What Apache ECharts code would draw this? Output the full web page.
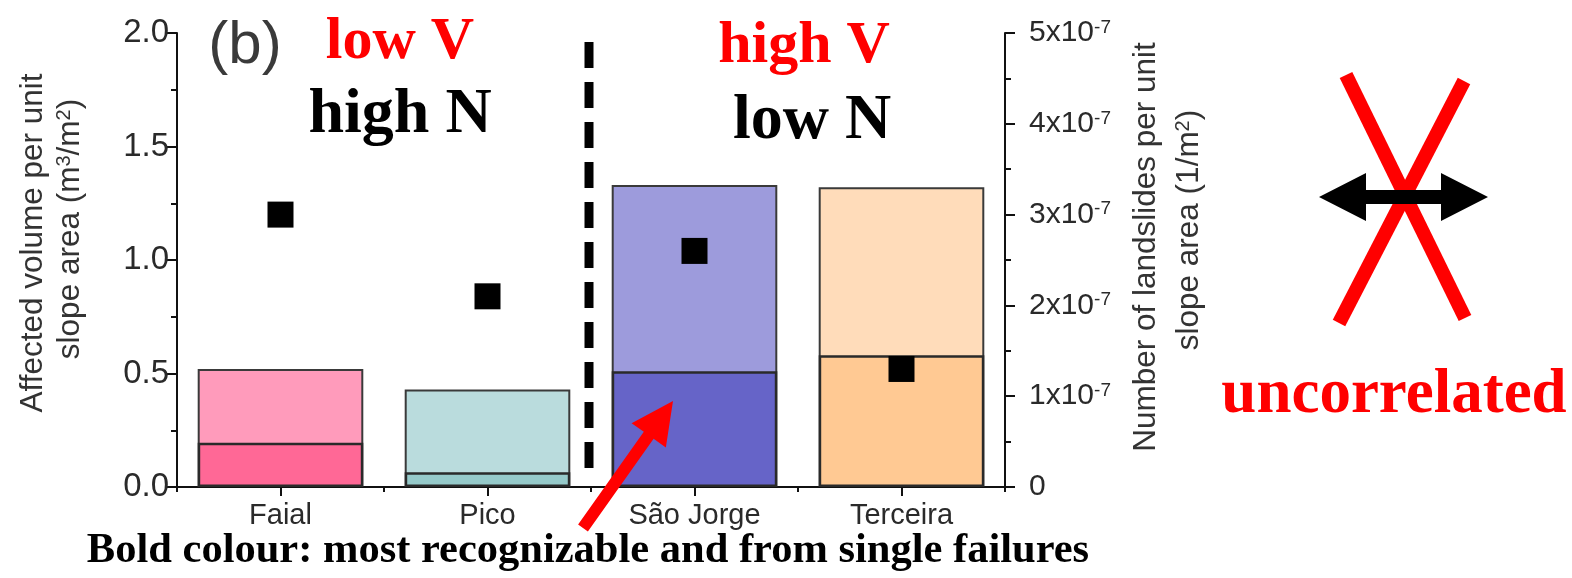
<!DOCTYPE html>
<html><head><meta charset="utf-8">
<script src="https://cdn.jsdelivr.net/npm/echarts@6/dist/echarts.min.js"></script>
<style>html,body{margin:0;padding:0;background:#fff}#c{width:1572px;height:578px}</style>
</head><body><div id="c"></div>
<script>
// ---- data ----
const islands = ['Faial', 'Pico', 'São Jorge', 'Terceira'];
const totalVolume = [0.52, 0.43, 1.33, 1.32];          // m3/m2, light bars
const singleFailureVolume = [0.195, 0.065, 0.51, 0.58]; // m3/m2, bold bars
const landslidesE7 = [3.0, 2.1, 2.6, 1.3];             // x10^-7 per m2, squares
const leftTicks = [0, 0.5, 1.0, 1.5, 2.0];
const rightTicks = [0, 1, 2, 3, 4, 5];
const lightColors = ['#FF9BBB', '#BADCDD', '#9D9BDC', '#FFDCBA'];
const boldColors = ['#FF6896', '#96CACA', '#6664C8', '#FFC993'];

const SANS = '"Liberation Sans", Arial, sans-serif';
const SERIF = '"Liberation Serif", "Times New Roman", serif';

const chart = echarts.init(document.getElementById('c'));
const axisCommon = {
  axisLine: { show: true, lineStyle: { color: '#111', width: 2 } },
  axisTick: { show: true, length: 10, lineStyle: { color: '#111', width: 2 } },
  minorTick: { show: true, splitNumber: 2, length: 6, lineStyle: { color: '#111', width: 2 } },
  splitLine: { show: false }
};
chart.setOption({
  animation: false,
  backgroundColor: '#fff',
  grid: { left: 177, right: 567, top: 33, bottom: 91, containLabel: false },
  xAxis: [{
    type: 'category', data: islands,
    axisLine: { show: true, lineStyle: { color: '#111', width: 2 } },
    axisTick: { show: true, alignWithLabel: true, length: 9, lineStyle: { color: '#111', width: 2 } },
    axisLabel: { fontFamily: SANS, fontSize: 29, color: '#2a2a2a', margin: 14 }
  }, {
    type: 'category', data: islands, position: 'bottom',
    axisLine: { show: false },
    axisTick: { show: true, length: 5, lineStyle: { color: '#111', width: 2 } },
    axisLabel: { show: false }
  }],
  yAxis: [Object.assign({
    type: 'value', min: leftTicks[0], max: leftTicks[leftTicks.length - 1], interval: 0.5,
    position: 'left',
    axisLabel: { fontFamily: SANS, fontSize: 33, color: '#2a2a2a', margin: 8,
      formatter: v => v.toFixed(1) }
  }, axisCommon), Object.assign({
    type: 'value', min: rightTicks[0], max: rightTicks[rightTicks.length - 1], interval: 1,
    position: 'right',
    axisLabel: { color: '#2a2a2a', margin: 24,
      formatter: v => v === 0 ? '{a|0}' : '{a|' + v + 'x10}{s|-7}',
      rich: {
        a: { fontFamily: SANS, fontSize: 30, color: '#2a2a2a' },
        s: { fontFamily: SANS, fontSize: 19, color: '#2a2a2a', verticalAlign: 'top' }
      } }
  }, axisCommon)],
  series: [{
    type: 'bar', name: 'total', xAxisIndex: 0, yAxisIndex: 0,
    barWidth: '80%', barGap: '-100%',
    data: totalVolume.map((v, i) => ({ value: v, itemStyle: { color: lightColors[i] } })),
    itemStyle: { borderColor: '#3a3a3a', borderWidth: 2 }, z: 2
  }, {
    type: 'bar', name: 'single', xAxisIndex: 0, yAxisIndex: 0,
    barWidth: '80%', barGap: '-100%',
    data: singleFailureVolume.map((v, i) => ({ value: v, itemStyle: { color: boldColors[i] } })),
    itemStyle: { borderColor: '#2a2a2a', borderWidth: 2.5 }, z: 3
  }, {
    type: 'scatter', name: 'landslides', xAxisIndex: 0, yAxisIndex: 1,
    symbol: 'rect', symbolSize: 26,
    data: landslidesE7,
    itemStyle: { color: '#000', opacity: 1 }, z: 5
  }]
});

// ---- annotations ----
function arrowPoints(x1, y1, x2, y2, headLen, headHalf, shaftHalf) {
  const dx = x2 - x1, dy = y2 - y1, L = Math.hypot(dx, dy);
  const ux = dx / L, uy = dy / L, nx = -uy, ny = ux;
  const bx = x2 - ux * headLen, by = y2 - uy * headLen;
  return [
    [x1 + nx * shaftHalf, y1 + ny * shaftHalf],
    [bx + nx * shaftHalf, by + ny * shaftHalf],
    [bx + nx * headHalf, by + ny * headHalf],
    [x2, y2],
    [bx - nx * headHalf, by - ny * headHalf],
    [bx - nx * shaftHalf, by - ny * shaftHalf],
    [x1 - nx * shaftHalf, y1 - ny * shaftHalf]
  ];
}
function txt(text, x, y, font, fill) {
  return { type: 'text', x: x, y: y, z: 20,
    style: { text: text, font: font, fill: fill, textAlign: 'center',
      textVerticalAlign: 'middle', verticalAlign: 'middle' } };
}
const xPico = chart.convertToPixel({ xAxisIndex: 0 }, 'Pico');
const xSJ = chart.convertToPixel({ xAxisIndex: 0 }, 'São Jorge');
const divX = (xPico + xSJ) / 2 - 2;
const divTop = chart.convertToPixel({ yAxisIndex: 0 }, 1.96);
const divBot = chart.convertToPixel({ yAxisIndex: 0 }, 0.08);

const supRich = {
  a: { font: '31.5px ' + SANS, fill: '#333' },
  s: { font: '20px ' + SANS, fill: '#333', verticalAlign: 'top' }
};
function rotTitle(text, x, y) {
  return { type: 'text', x: x, y: y, rotation: Math.PI / 2, z: 20,
    style: { text: text, rich: supRich, textAlign: 'center', align: 'center',
      textVerticalAlign: 'middle', verticalAlign: 'middle' } };
}

chart.setOption({
  graphic: [
    { type: 'line', z: 10, shape: { x1: divX, y1: divTop, x2: divX, y2: divBot },
      style: { stroke: '#000', lineWidth: 9, lineDash: [26, 14] } },
    txt('(b)', 245, 46, '60px ' + SANS, '#3a3a3a'),
    txt('low V', 400, 42, 'bold 60px ' + SERIF, '#FF0000'),
    txt('high N', 400, 115, 'bold 64px ' + SERIF, '#000'),
    txt('high V', 804, 46, 'bold 60px ' + SERIF, '#FF0000'),
    txt('low N', 812, 121, 'bold 64px ' + SERIF, '#000'),
    txt('Bold colour: most recognizable and from single failures', 588, 551, 'bold 42.5px ' + SERIF, '#000'),
    txt('uncorrelated', 1394, 396, 'bold 63px ' + SERIF, '#FF0000'),
    rotTitle('{a|Affected volume per unit}', 33, 243),
    rotTitle('{a|slope area (m}{s|3}{a|/m}{s|2}{a|)}', 70, 229),
    rotTitle('{a|Number of landslides per unit}', 1146, 247),
    rotTitle('{a|slope area (1/m}{s|2}{a|)}', 1189, 230),
    { type: 'polygon', z: 12, shape: { points: arrowPoints(583, 528, 673, 401, 42, 21, 6) },
      style: { fill: '#FF0000' } },
    { type: 'line', z: 10, shape: { x1: 1346, y1: 75, x2: 1465, y2: 318 },
      style: { stroke: '#FF0000', lineWidth: 14 } },
    { type: 'line', z: 10, shape: { x1: 1464, y1: 81, x2: 1339, y2: 323 },
      style: { stroke: '#FF0000', lineWidth: 14 } },
    { type: 'polygon', z: 11, shape: { points: (function () {
        const y = 197, l = 1319, r = 1488, hl = 47, hh = 24, sh = 7;
        return [[l, y], [l + hl, y - hh], [l + hl, y - sh], [r - hl, y - sh], [r - hl, y - hh], [r, y],
          [r - hl, y + hh], [r - hl, y + sh], [l + hl, y + sh], [l + hl, y + hh]];
      })() }, style: { fill: '#000' } }
  ]
});
</script>
</body></html>
